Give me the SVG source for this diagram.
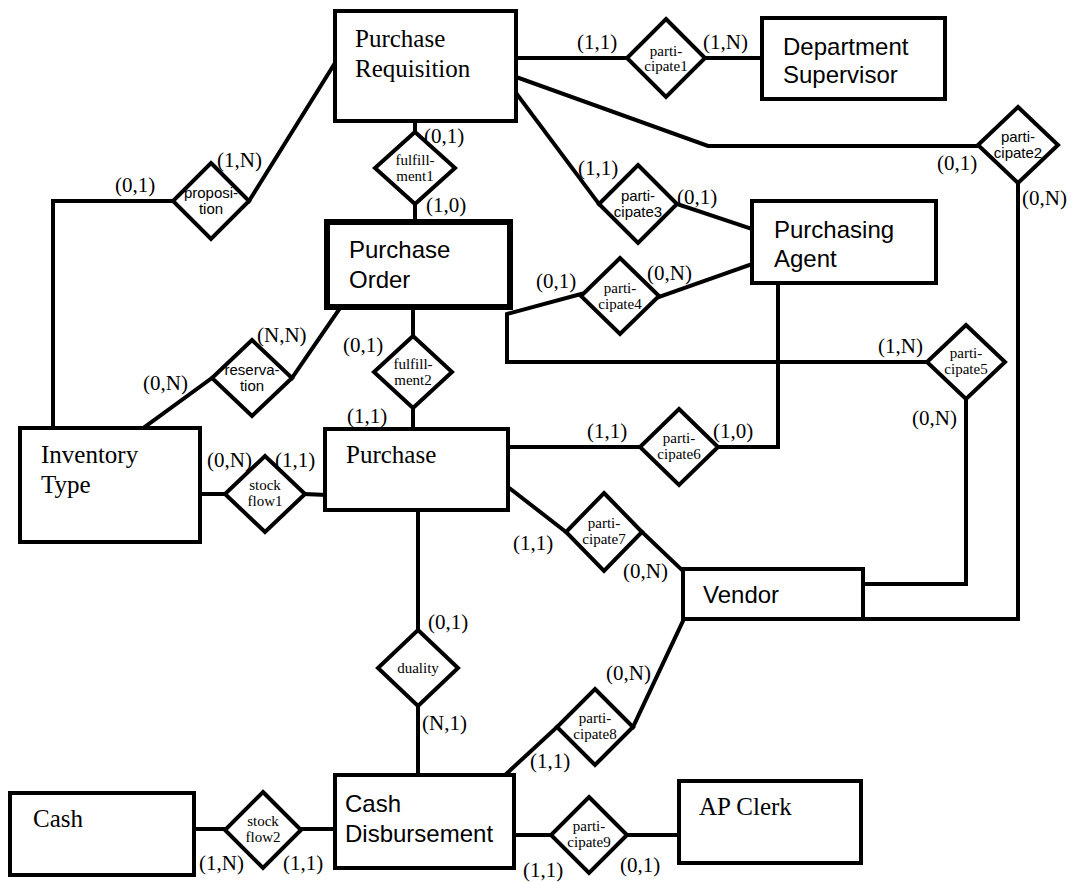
<svg xmlns="http://www.w3.org/2000/svg" width="1072" height="882" viewBox="0 0 1072 882">
<style>
.ent{fill:#fff;stroke:#000;stroke-width:4}
.ent2{fill:#fff;stroke:#000;stroke-width:6}
.rel{fill:#fff;stroke:#000;stroke-width:4;stroke-linejoin:miter}
.con line,.con polyline{stroke:#000;stroke-width:4;fill:none;stroke-linecap:square}
.ts{font-family:"Liberation Serif",serif;font-size:25px;fill:#000}
.ta{font-family:"Liberation Sans",sans-serif;font-size:24px;fill:#000}
.rs{font-family:"Liberation Serif",serif;font-size:15px;fill:#000;text-anchor:middle}
.ra{font-family:"Liberation Sans",sans-serif;font-size:15px;fill:#000;text-anchor:middle}
.card{font-family:"Liberation Serif",serif;font-size:21px;fill:#000}
</style>
<rect width="1072" height="882" fill="#fff"/>
<g id="connectors" class="con">
<line x1="516" y1="58" x2="627" y2="58"/>
<line x1="705" y1="58" x2="762" y2="58"/>
<polyline points="516,77 708,146 978,146"/>
<polyline points="1018,183 1018,619 863,619"/>
<line x1="516" y1="93" x2="599" y2="204"/>
<line x1="677" y1="204" x2="752" y2="229"/>
<line x1="415" y1="121" x2="415" y2="132"/>
<line x1="415" y1="204" x2="415" y2="222"/>
<line x1="413" y1="307" x2="413" y2="336"/>
<line x1="413" y1="408" x2="413" y2="429"/>
<line x1="335" y1="63" x2="249" y2="201"/>
<polyline points="173,201 53,201 53,428"/>
<line x1="340" y1="308" x2="292" y2="378"/>
<line x1="212" y1="378" x2="142" y2="429"/>
<line x1="200" y1="494" x2="225" y2="494"/>
<line x1="305" y1="494" x2="325" y2="495"/>
<line x1="752" y1="264" x2="659" y2="297"/>
<polyline points="581,294 507,314 507,362 927,362"/>
<polyline points="778,283 778,447 718,447"/>
<line x1="508" y1="447" x2="640" y2="447"/>
<polyline points="966,399 966,584 863,584"/>
<line x1="508" y1="487" x2="566" y2="532"/>
<line x1="642" y1="532" x2="683" y2="571"/>
<line x1="418" y1="510" x2="418" y2="630"/>
<line x1="418" y1="706" x2="418" y2="775"/>
<line x1="683" y1="621" x2="633" y2="727"/>
<line x1="557" y1="727" x2="505" y2="775"/>
<line x1="194" y1="829" x2="225" y2="829"/>
<line x1="301" y1="829" x2="336" y2="829"/>
<line x1="513" y1="835" x2="551" y2="835"/>
<line x1="627" y1="835" x2="679" y2="835"/>
</g>
<g id="purchase-requisition"><rect class="ent" x="335" y="11" width="181" height="110"/><text class="ts" x="355" y="47">Purchase</text><text class="ts" x="355" y="77">Requisition</text></g>
<g id="department-supervisor"><rect class="ent" x="762" y="18" width="183" height="81"/><text class="ta" x="783" y="55">Department</text><text class="ta" x="783" y="83">Supervisor</text></g>
<g id="purchase-order"><rect class="ent2" x="327" y="222" width="183" height="85"/><text class="ta" x="349" y="258">Purchase</text><text class="ta" x="349" y="288">Order</text></g>
<g id="purchasing-agent"><rect class="ent" x="752" y="201" width="184" height="82"/><text class="ta" x="774" y="238">Purchasing</text><text class="ta" x="774" y="267">Agent</text></g>
<g id="inventory-type"><rect class="ent" x="20" y="428" width="180" height="114"/><text class="ts" x="41" y="463">Inventory</text><text class="ts" x="41" y="493">Type</text></g>
<g id="purchase"><rect class="ent" x="325" y="429" width="183" height="81"/><text class="ts" x="346" y="463">Purchase</text></g>
<g id="vendor"><rect class="ent" x="683" y="569" width="180" height="50"/><text class="ta" x="703" y="603">Vendor</text></g>
<g id="cash"><rect class="ent" x="10" y="793" width="184" height="82"/><text class="ts" x="33" y="827">Cash</text></g>
<g id="cash-disbursement"><rect class="ent" x="335" y="775" width="179" height="93"/><text class="ta" x="345" y="812">Cash</text><text class="ta" x="345" y="842">Disbursement</text></g>
<g id="ap-clerk"><rect class="ent" x="679" y="781" width="182" height="82"/><text class="ts" x="699" y="815">AP Clerk</text></g>
<g id="participate1"><polygon class="rel" points="666,19 705,58 666,97 627,58"/><text class="rs" x="666" y="56">parti-</text><text class="rs" x="666" y="71">cipate1</text></g>
<g id="participate2"><polygon class="rel" points="1018,107 1058,145 1018,183 978,145"/><text class="ra" x="1018" y="142">parti-</text><text class="ra" x="1018" y="158">cipate2</text></g>
<g id="participate3"><polygon class="rel" points="638,165 677,204 638,243 599,204"/><text class="ra" x="638" y="201">parti-</text><text class="ra" x="638" y="217">cipate3</text></g>
<g id="participate4"><polygon class="rel" points="620,258 659,296 620,334 581,296"/><text class="rs" x="620" y="293">parti-</text><text class="rs" x="620" y="309">cipate4</text></g>
<g id="participate5"><polygon class="rel" points="966,325 1005,362 966,399 927,362"/><text class="rs" x="966" y="358">parti-</text><text class="rs" x="966" y="374">cipate5</text></g>
<g id="participate6"><polygon class="rel" points="679,409 718,447 679,485 640,447"/><text class="rs" x="679" y="443">parti-</text><text class="rs" x="679" y="459">cipate6</text></g>
<g id="participate7"><polygon class="rel" points="604,493 642,532 604,571 566,532"/><text class="rs" x="604" y="528">parti-</text><text class="rs" x="604" y="544">cipate7</text></g>
<g id="participate8"><polygon class="rel" points="595,689 633,727 595,765 557,727"/><text class="rs" x="595" y="723">parti-</text><text class="rs" x="595" y="739">cipate8</text></g>
<g id="participate9"><polygon class="rel" points="589,797 627,835 589,873 551,835"/><text class="rs" x="589" y="831">parti-</text><text class="rs" x="589" y="847">cipate9</text></g>
<g id="fulfillment1"><polygon class="rel" points="415,132 455,168 415,204 375,168"/><text class="rs" x="415" y="165">fulfill-</text><text class="rs" x="415" y="181">ment1</text></g>
<g id="fulfillment2"><polygon class="rel" points="413,336 452,372 413,408 374,372"/><text class="rs" x="413" y="369">fulfill-</text><text class="rs" x="413" y="385">ment2</text></g>
<g id="proposition"><polygon class="rel" points="211,163 249,201 211,239 173,201"/><text class="ra" x="211" y="198">proposi-</text><text class="ra" x="211" y="214">tion</text></g>
<g id="reservation"><polygon class="rel" points="252,340 292,378 252,416 212,378"/><text class="ra" x="252" y="375">reserva-</text><text class="ra" x="252" y="391">tion</text></g>
<g id="stockflow1"><polygon class="rel" points="265,456 305,494 265,532 225,494"/><text class="rs" x="265" y="490">stock</text><text class="rs" x="265" y="506">flow1</text></g>
<g id="stockflow2"><polygon class="rel" points="263,792 301,830 263,868 225,830"/><text class="rs" x="263" y="826">stock</text><text class="rs" x="263" y="842">flow2</text></g>
<g id="duality"><polygon class="rel" points="418,630 458,668 418,706 378,668"/><text class="rs" x="418" y="673">duality</text></g>
<g id="cardinalities">
<text class="card" x="577" y="49">(1,1)</text>
<text class="card" x="703" y="49">(1,N)</text>
<text class="card" x="424" y="143">(0,1)</text>
<text class="card" x="426" y="212">(1,0)</text>
<text class="card" x="937" y="170">(0,1)</text>
<text class="card" x="1022" y="205">(0,N)</text>
<text class="card" x="578" y="175">(1,1)</text>
<text class="card" x="677" y="204">(0,1)</text>
<text class="card" x="115" y="192">(0,1)</text>
<text class="card" x="217" y="167">(1,N)</text>
<text class="card" x="257" y="342">(N,N)</text>
<text class="card" x="143" y="390">(0,N)</text>
<text class="card" x="343" y="352">(0,1)</text>
<text class="card" x="347" y="423">(1,1)</text>
<text class="card" x="536" y="288">(0,1)</text>
<text class="card" x="647" y="280">(0,N)</text>
<text class="card" x="878" y="353">(1,N)</text>
<text class="card" x="912" y="425">(0,N)</text>
<text class="card" x="207" y="467">(0,N)</text>
<text class="card" x="275" y="467">(1,1)</text>
<text class="card" x="587" y="438">(1,1)</text>
<text class="card" x="713" y="438">(1,0)</text>
<text class="card" x="513" y="550">(1,1)</text>
<text class="card" x="623" y="578">(0,N)</text>
<text class="card" x="428" y="629">(0,1)</text>
<text class="card" x="422" y="730">(N,1)</text>
<text class="card" x="606" y="680">(0,N)</text>
<text class="card" x="530" y="768">(1,1)</text>
<text class="card" x="199" y="870">(1,N)</text>
<text class="card" x="283" y="870">(1,1)</text>
<text class="card" x="523" y="877">(1,1)</text>
<text class="card" x="620" y="872">(0,1)</text>
</g>
</svg>
